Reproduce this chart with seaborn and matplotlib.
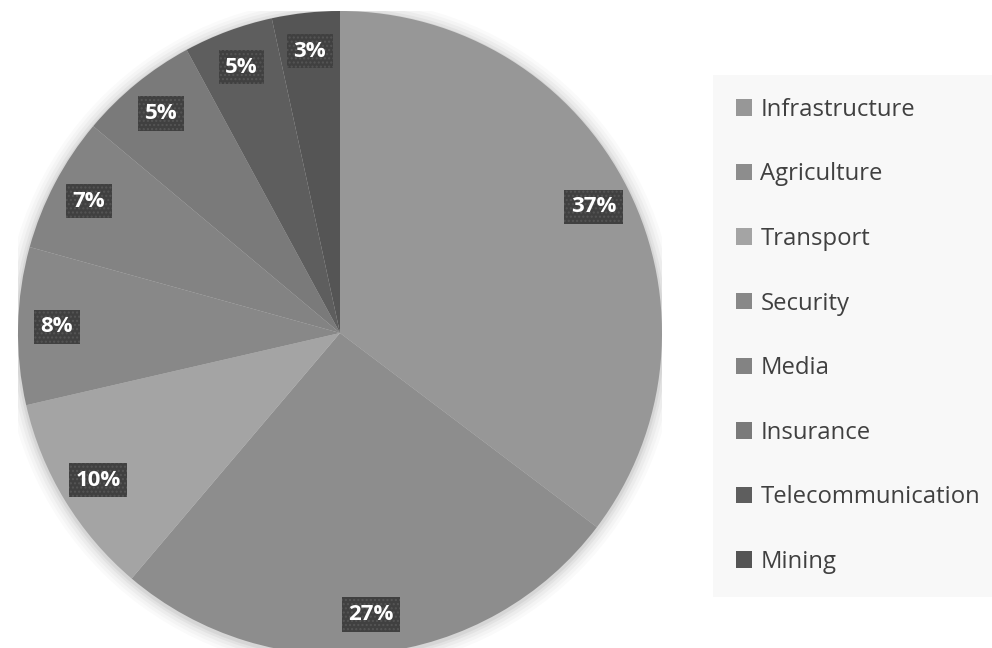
import numpy as np
import matplotlib
matplotlib.use('Agg')
import matplotlib.pyplot as plt
import matplotlib.patches as mpatches
import seaborn as sns

sectors = ["Infrastructure", "Agriculture", "Transport", "Security",
           "Media", "Insurance", "Telecommunication", "Mining"]
shares = [35.3, 25.9, 10.2, 7.9, 6.8, 6.0, 4.5, 3.4]
share_labels = ["37%", "27%", "10%", "8%", "7%", "5%", "5%", "3%"]
grays = ["#979797", "#8d8d8d", "#a4a4a4", "#888888",
         "#838383", "#7a7a7a", "#5e5e5e", "#555555"]

sns.set_theme(style="white")
plt.rcParams['font.family'] = ['Open Sans', 'DejaVu Sans']

fig = plt.figure(figsize=(9.92, 6.48), dpi=100)
ax = fig.add_axes([18 / 992, -7 / 648, 644 / 992, 644 / 648])

# soft shadow round the pie
for r, a in [(1.045, 0.02), (1.035, 0.025), (1.025, 0.03), (1.015, 0.04), (1.007, 0.05)]:
    ax.add_patch(mpatches.Circle((0.0, -0.005), r, facecolor="#000000", alpha=a,
                                 edgecolor="none", zorder=0))

wedges, texts = ax.pie(shares, colors=grays, startangle=90, counterclock=False,
                       radius=1, labels=share_labels, labeldistance=0.88,
                       wedgeprops=dict(edgecolor="none"),
                       textprops=dict(color="white", fontsize=16, fontweight="bold",
                                      ha="center", va="center"))
for t in texts:
    t.set_bbox(dict(boxstyle="square,pad=0.3", facecolor="#404040",
                    edgecolor="#555555", linewidth=0, hatch="...."))

ax.set_xlim(-1, 1)
ax.set_ylim(-1, 1)
ax.set_aspect("equal")
ax.axis("off")

handles = [mpatches.Patch(facecolor=c, edgecolor="none") for c in grays]
leg = fig.legend(handles, sectors, loc="upper left",
                 bbox_to_anchor=(713 / 992, 1 - 75 / 648),
                 frameon=True, facecolor="#f7f7f7", edgecolor="none",
                 fancybox=False, fontsize=17.2, labelspacing=1.7,
                 handlelength=0.68, handleheight=0.68, handletextpad=0.35,
                 borderpad=0.95, borderaxespad=0)
for t in leg.get_texts():
    t.set_color("#404040")

fig.savefig("out.png", dpi=100, facecolor="white")
